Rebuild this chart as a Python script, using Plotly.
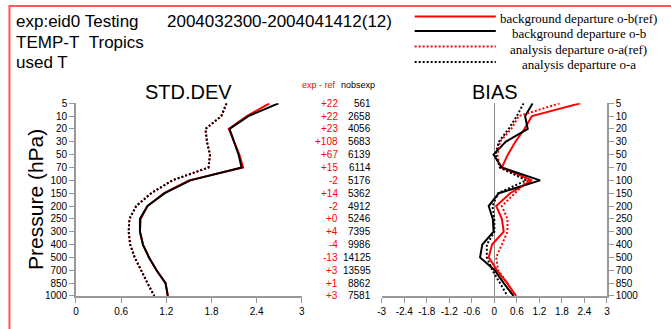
import plotly.graph_objects as go

levels = ["5","10","20","30","50","70","100","150","200","250","300","400","500","700","850","1000"]

std_bg_ref = [2.57, 2.27, 2.03, 2.10, 2.17, 2.22, 1.50, 1.17, 0.95, 0.86, 0.85, 0.89, 0.97, 1.07, 1.19, 1.22]
std_bg     = [2.69, 2.29, 2.04, 2.10, 2.16, 2.20, 1.52, 1.18, 0.95, 0.85, 0.85, 0.89, 0.97, 1.07, 1.19, 1.22]
std_an_ref = [2.00, 1.93, 1.72, 1.74, 1.78, 1.76, 1.28, 1.00, 0.80, 0.71, 0.70, 0.72, 0.78, 0.86, 0.95, 1.04]
std_an     = [2.00, 1.93, 1.72, 1.74, 1.78, 1.76, 1.28, 1.00, 0.80, 0.71, 0.70, 0.72, 0.78, 0.86, 0.95, 1.04]

bias_bg_ref = [2.29, 1.00, 0.80, 0.56, 0.36, 0.20, 1.00, 0.42, 0.05, 0.20, 0.25, -0.06, -0.15, 0.07, 0.34, 0.58]
bias_bg     = [1.02, 0.82, 0.89, 0.30, -0.02, 0.20, 1.22, 0.12, -0.15, -0.04, -0.02, -0.32, -0.38, 0.01, 0.25, 0.51]
bias_an_ref = [1.74, 0.65, 0.45, 0.15, 0.08, 0.15, 0.90, 0.55, 0.20, 0.35, 0.35, 0.20, 0.05, 0.10, 0.35, 0.55]
bias_an     = [0.78, 0.60, 0.38, 0.12, 0.03, 0.15, 0.85, 0.10, -0.05, 0.00, 0.00, -0.20, -0.20, -0.05, 0.15, 0.35]

exp_minus_ref = ["+22","+22","+23","+108","+67","+15","-2","+14","-2","+0","+4","-4","-13","+3","+1","+3"]
nobs_exp = [561, 2658, 4056, 5683, 6139, 6114, 5176, 5362, 4912, 5246, 7395, 9986, 14125, 13595, 8862, 7581]

std_ticks = [0, 0.6, 1.2, 1.8, 2.4, 3]
std_ticklabels = ["0", "0.6", "1.2", "1.8", "2.4", "3"]
bias_ticks = [-3, -2.4, -1.8, -1.2, -0.6, 0, 0.6, 1.2, 1.8, 2.4, 3]
bias_ticklabels = ["-3", "-2.4", "-1.8", "-1.2", "-0.6", "0", "0.6", "1.2", "1.8", "2.4", "3"]

legend_names = ["background departure o-b(ref)", "background departure o-b",
                "analysis departure o-a(ref)", "analysis departure o-a"]

W, H = 671, 329
def px(x): return x / W
def py(y): return 1 - y / H

RED = "#ff0000"
BLACK = "#000000"
AX = "#999999"
DOT = "2px,2px"
SANS = "Liberation Sans, Arial, sans-serif"
SERIF = "Liberation Serif, Times New Roman, serif"

fig = go.Figure()
series = [
    (std_bg_ref, bias_bg_ref, RED, "solid"),
    (std_bg, bias_bg, BLACK, "solid"),
    (std_an_ref, bias_an_ref, RED, DOT),
    (std_an, bias_an, BLACK, DOT),
]
for (s, b, c, d), name in zip(series, legend_names):
    fig.add_trace(go.Scatter(x=s, y=levels, mode="lines", name=name,
                             line=dict(color=c, width=2, dash=d),
                             xaxis="x", yaxis="y", showlegend=False))
    fig.add_trace(go.Scatter(x=b, y=levels, mode="lines", name=name,
                             line=dict(color=c, width=2, dash=d),
                             xaxis="x2", yaxis="y2", showlegend=False))

ydom = [py(301), py(101.7)]
tickfont = dict(family=SANS, size=10, color="#000")
common_y = dict(type="category", categoryorder="array", categoryarray=levels,
                range=[15, 0], domain=ydom, showline=True, linecolor=AX, linewidth=1.5,
                ticks="outside", ticklen=5, tickcolor=AX, tickfont=tickfont,
                showgrid=False, zeroline=False, fixedrange=True)
fig.update_layout(
    width=W, height=H, margin=dict(l=0, r=0, t=0, b=0),
    paper_bgcolor="white", plot_bgcolor="white",
    xaxis=dict(domain=[px(72.7), px(301)], range=[0, 3],
               tickmode="array", tickvals=std_ticks, ticktext=std_ticklabels,
               showline=True, linecolor=AX, linewidth=1.5, ticks="outside", ticklen=5,
               tickcolor=AX, tickfont=tickfont, showgrid=False, zeroline=False,
               anchor="y"),
    yaxis=dict(**common_y, anchor="x", side="left"),
    xaxis2=dict(domain=[px(381.7), px(609.3)], range=[-3, 3],
                tickmode="array", tickvals=bias_ticks, ticktext=bias_ticklabels,
                showline=True, linecolor=AX, linewidth=1.5, ticks="outside", ticklen=5,
                tickcolor=AX, tickfont=tickfont, showgrid=False,
                zeroline=True, zerolinecolor="#888888", zerolinewidth=1,
                anchor="y2"),
    yaxis2=dict(**common_y, anchor="x2", side="right"),
    showlegend=False,
)

ann = []
def text(x, y, t, size, color="#000", family=SANS, xanchor="left", **kw):
    ann.append(dict(x=px(x), y=py(y), xref="paper", yref="paper", text=t, showarrow=False,
                    xanchor=xanchor, yanchor="middle",
                    font=dict(family=family, size=size, color=color), **kw))

text(10, 17, "exp:eid0 Testing", 17)
text(163, 17, "2004032300-2004041412(12)", 17)
text(10, 39, "TEMP-T&nbsp;&nbsp;Tropics", 17)
text(10, 60, "used T", 17)
text(186, 90, "STD.DEV", 20, xanchor="center")
text(496, 90, "BIAS", 20, xanchor="center")
text(32, 201, "Pressure (hPa)", 21, xanchor="center", textangle=-90)
text(338, 83, "exp - ref", 9, color=RED, xanchor="right")
text(339, 83, "nobsexp", 9)

# legend
leg_y_line = [12, 27, 43, 59]
leg_y_text = [14, 30, 46, 62]
leg_styles = [(RED, "solid"), (BLACK, "solid"), (RED, DOT), (BLACK, DOT)]
shapes = []
for (c, d), yl, yt, name in zip(leg_styles, leg_y_line, leg_y_text, legend_names):
    shapes.append(dict(type="line", xref="paper", yref="paper", x0=px(415), x1=px(497),
                       y0=py(yl), y1=py(yl), line=dict(color=c, width=2, dash=d)))
    text(581, yt, name, 13, family=SERIF, xanchor="center")

# column of numbers (category axis positions are level indices)
for i, (d, n) in enumerate(zip(exp_minus_ref, nobs_exp)):
    ann.append(dict(x=px(340), y=i, xref="paper", yref="y", text=d, showarrow=False,
                    xanchor="right", yanchor="middle",
                    font=dict(family=SANS, size=10, color=RED)))
    ann.append(dict(x=px(373), y=i, xref="paper", yref="y", text=str(n), showarrow=False,
                    xanchor="right", yanchor="middle",
                    font=dict(family=SANS, size=10, color="#000")))

# red frame
shapes.append(dict(type="rect", xref="paper", yref="paper", x0=px(5.5), x1=1.2,
                   y0=-0.2, y1=py(1), line=dict(color="#ff5555", width=2)))

fig.update_layout(annotations=ann, shapes=shapes)
fig.write_html("out.html")
